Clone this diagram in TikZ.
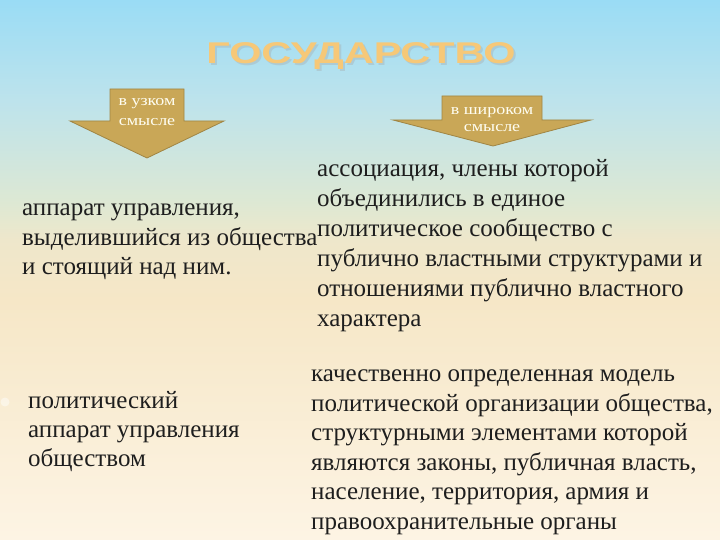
\documentclass[tikz,border=0pt]{standalone}
\usepackage{fontspec}
\setmainfont{Liberation Serif}
\newfontfamily\titlefont{Liberation Sans}
\newfontfamily\widefont[FakeStretch=1.2]{Liberation Serif}
\definecolor{bgtop}{HTML}{9ADCF5}
\definecolor{bgsky}{HTML}{BDE3EC}
\definecolor{bgmint}{HTML}{DCE8D4}
\definecolor{bgbeige}{HTML}{F6E7C7}
\definecolor{bgbot}{HTML}{FDF4E4}
\definecolor{arrowfill}{HTML}{C9A757}
\definecolor{arrowline}{HTML}{A08544}
\definecolor{titlecol}{HTML}{F6C878}
\definecolor{textcol}{HTML}{1E1E1E}
% TikZ maps the path onto the band 25bp..75bp of a shading
\pgfdeclareverticalshading{slidebg}{100bp}{color(0bp)=(bgbot); color(25bp)=(bgbot); color(47.2bp)=(bgbeige); color(52.8bp)=(bgbeige!70!bgmint); color(56.5bp)=(bgmint); color(65.7bp)=(bgsky); color(75bp)=(bgtop); color(100bp)=(bgtop)}
\tikzset{
  arrowshape/.style={fill=arrowfill, draw=arrowline, line width=0.8pt, line join=miter},
  arrowtxt/.style={text=white!95!yellow, font=\widefont\fontsize{15}{20}\selectfont, align=center, inner sep=0pt},
  bodytxt/.style={text=textcol, font=\fontsize{25}{29.5}\selectfont, align=left, inner sep=0pt, anchor=north west},
  titletxt/.style={font=\titlefont\bfseries\fontsize{30}{30}\selectfont, inner sep=0pt}
}
\begin{document}
\begin{tikzpicture}[x=1pt,y=-1pt]
\shade[shading=slidebg] (0,0) rectangle (720,540);
\useasboundingbox (0,0) rectangle (720,540);
% title
\node[titletxt, text=gray!70, opacity=0.35] (titleshadow) at (363,58) {\scalebox{1.38}[1]{ГОСУДАРСТВО}};
\node[titletxt, text=titlecol] (title) at (361,56) {\scalebox{1.38}[1]{ГОСУДАРСТВО}};
% arrows
\path[arrowshape] (110,89) -- (184,89) -- (184,121) -- (224,121) -- (147,158) -- (70,121) -- (110,121) -- cycle;
\node[arrowtxt] (narrow) at (147,112) {в узком\\смысле};
\path[arrowshape] (442,96) -- (542,96) -- (542,120) -- (591,120) -- (493,146) -- (393,120) -- (442,120) -- cycle;
\node[arrowtxt, font=\widefont\fontsize{15}{17}\selectfont] (broad) at (492,120) {в широком\\смысле};
% texts
\node[bodytxt] (narrowdef) at (22,204) {аппарат управления,\\выделившийся из общества\\и стоящий над ним.};
\node[bodytxt, font=\fontsize{25}{30}\selectfont] (broaddef) at (317,158.7) {ассоциация, члены которой\\объединились в единое\\политическое сообщество с\\публично властными структурами и\\отношениями публично властного\\характера};
\node[bodytxt, font=\fontsize{25}{28.7}\selectfont] (narrowdef2) at (28,391.6) {политический\\аппарат управления\\обществом};
\node[bodytxt] (broaddef2) at (311,369.8) {качественно определенная модель\\политической организации общества,\\структурными элементами которой\\являются законы, публичная власть,\\население, территория, армия и\\правоохранительные органы};
% faint bullet
\fill[white, opacity=0.45] (5,402) circle (4.5);
\end{tikzpicture}
\end{document}
